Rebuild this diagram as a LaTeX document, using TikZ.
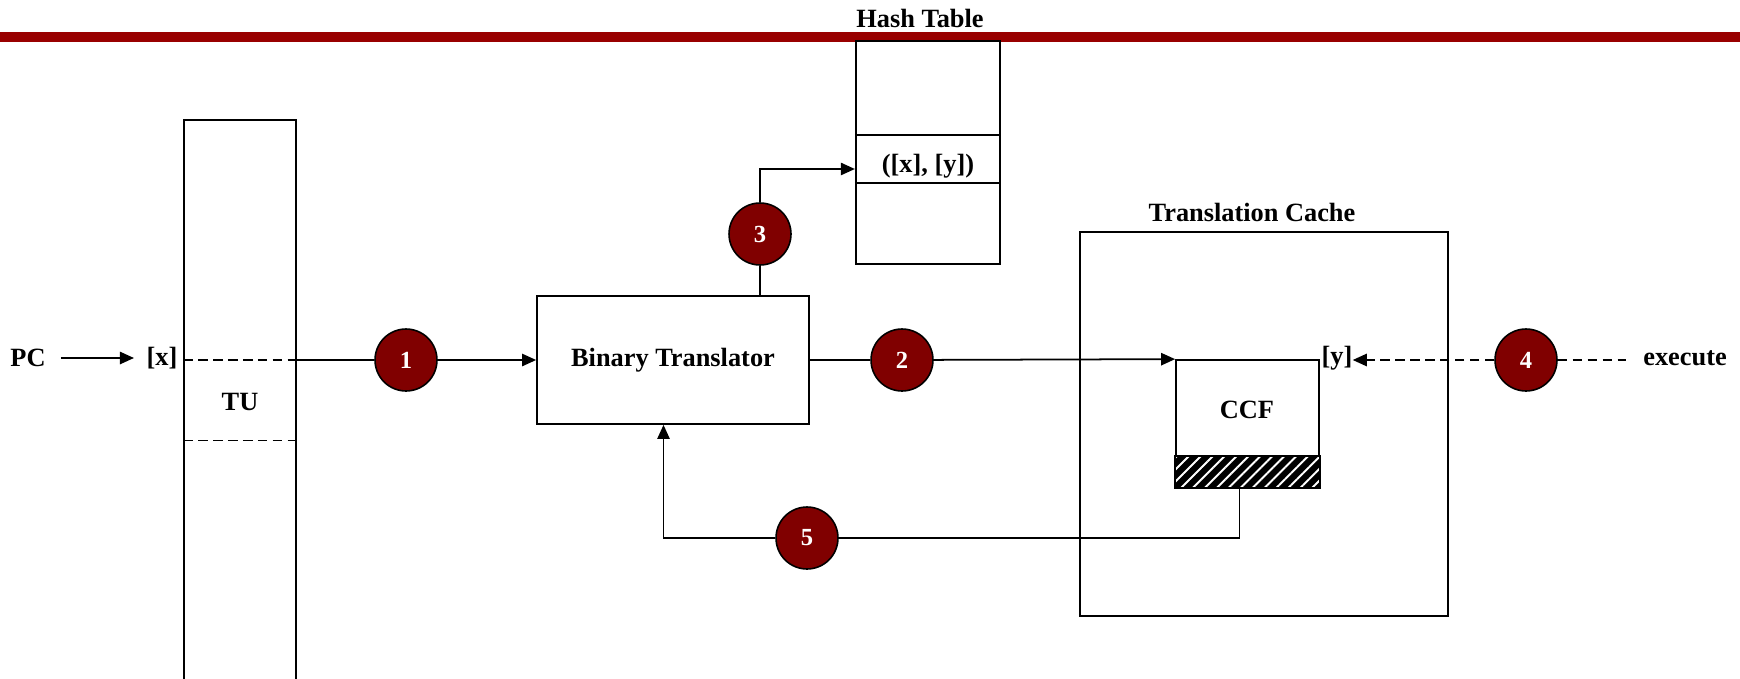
\documentclass[tikz,border=0pt]{standalone}
\usepackage{fontspec}
\setmainfont{Liberation Serif}
\usetikzlibrary{arrows.meta,patterns.meta}
\definecolor{barred}{HTML}{990000}
\definecolor{stepred}{HTML}{800000}
\tikzset{
  box/.style={draw, line width=1pt, inner sep=0pt},
  lbl/.style={font=\fontsize{15}{18}\selectfont\bfseries, inner sep=0pt},
  stepnum/.style={circle, draw, line width=0.9pt, fill=stepred, text=white,
    minimum size=1.24cm, inner sep=0pt, font=\fontsize{14}{16}\selectfont\bfseries},
  conn/.style={line width=1pt},
  arr/.style={line width=1pt, -{Triangle[length=8pt,width=7pt]}},
  dsh/.style={line width=1pt, dash pattern=on 5.5pt off 3pt}
}
\begin{document}
\begin{tikzpicture}[x=0.02cm, y=-0.02cm]
  \useasboundingbox (0,0) rectangle (1740,679);
  \fill[barred] (0,32) rectangle (1740,42);
% hash table
  \node (htitle) [lbl] at (920,18) {Hash Table};
  \node (ht) [box, fill=white, minimum width=2.89cm, minimum height=4.46cm] at (928,152.5) {};
  \draw[conn] ([yshift=0.35cm]ht.west) -- ([yshift=0.35cm]ht.east);
  \draw[conn] ([yshift=-0.61cm]ht.west) -- ([yshift=-0.61cm]ht.east);
  \node (entry) [lbl] at (928,166) {([x], [y])};
% TU
  \node (tu) [box, minimum width=2.24cm, minimum height=12cm] at (240,420) {};
  \node (tulbl) [lbl] at (240,402) {TU};
  \draw[dsh] ([yshift=1.2cm]tu.west) -- ([yshift=1.2cm]tu.east);
  \draw[dsh] ([yshift=-0.41cm]tu.west) -- ([yshift=-0.41cm]tu.east);
  \node (pc) [lbl] at (28,358) {PC};
  \node (x) [lbl] at (162,358) {[x]};
  \draw[arr, shorten <=8.5pt, shorten >=7pt] (pc.east) -- (x.west);
% translator and cache
  \node (bt) [box, minimum width=5.44cm, minimum height=2.56cm, lbl] at (673,360) {Binary Translator};
  \node (tctitle) [lbl] at (1252,212) {Translation Cache};
  \node (tc) [box, minimum width=7.36cm, minimum height=7.68cm] at (1264,424) {};
  \node (ccf) [box, minimum width=2.86cm, minimum height=2.54cm] at (1247.5,423.5) {};
  \node (ccflbl) [lbl] at (1247,409.5) {CCF};
  \fill[black] (ccf.south west) rectangle ([yshift=0.64cm]ccf.south east);
  \fill[pattern={Lines[angle=45,distance=4.8pt,line width=1.1pt]}, pattern color=white]
    (ccf.south west) rectangle ([yshift=0.64cm]ccf.south east);
  \draw[line width=1pt] (ccf.south west) rectangle ([yshift=0.64cm]ccf.south east);
  \node (y) [lbl] at (1337,358) {[y]};
  \node (ex) [lbl] at (1685,358) {execute};
% steps
  \node (c1) [stepnum] at (406,360) {1};
  \node (c2) [stepnum] at (902,360) {2};
  \node (c3) [stepnum] at (760,234) {3};
  \node (c4) [stepnum] at (1526,360) {4};
  \node (c5) [stepnum] at (807,538) {5};
  \draw[conn] (tu.east |- c1) -- (c1);
  \draw[arr] (c1) -- (bt);
  \draw[conn] (bt) -- (c2);
  \draw[arr] (c2) -- (ccf.north west);
  \draw[conn] (bt.north -| c3) -- (c3);
  \draw[arr] (c3) |- ([yshift=-0.33cm]ht.west);
  \draw[dsh, -{Triangle[length=8pt,width=7pt]}] (c4) -- (c4 -| y.east);
  \draw[dsh, shorten >=9.6pt] (c4) -- (c4 -| ex.west);
  \draw[conn] ([xshift=-0.16cm]ccf.south) |- (c5);
  \draw[arr] (c5) -| ([xshift=-0.19cm]bt.south);
\end{tikzpicture}
\end{document}
